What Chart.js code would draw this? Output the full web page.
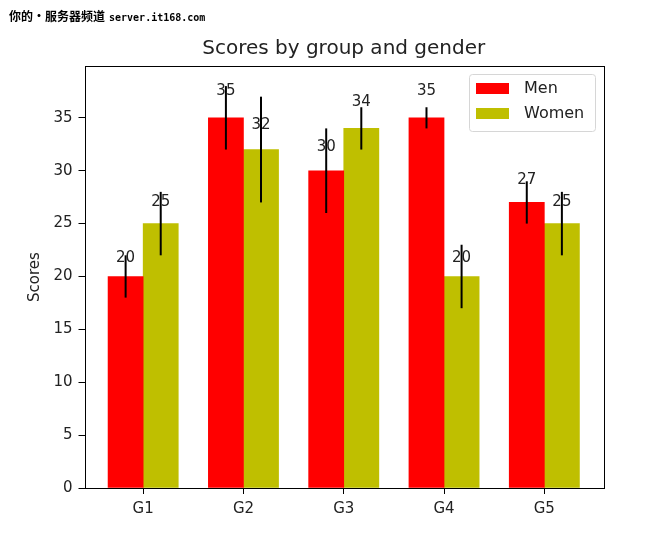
<!DOCTYPE html>
<html>
<head>
<meta charset="utf-8">
<script src="https://cdn.jsdelivr.net/npm/chart.js@4.4.1/dist/chart.umd.min.js"></script>
<style>
  html, body { margin: 0; padding: 0; background: #fff; }
  #wrap { position: relative; width: 670px; height: 548px; }
  #marca { position: absolute; left: 9px; top: 7px; font: bold 12px "Noto Sans CJK SC", sans-serif; color: #000; white-space: nowrap; }
  #marca span { font-family: "DejaVu Sans Mono", monospace; font-size: 10px; margin-left: 4px; }
</style>
</head>
<body>
<div id="wrap">
  <canvas id="grafico" width="670" height="548"></canvas>
  <div id="marca">你的·服务器频道<span>server.it168.com</span></div>
</div>
<script>
const grupos = ['G1', 'G2', 'G3', 'G4', 'G5'];
const hombres = [20, 35, 30, 35, 27];
const hombresStd = [2, 3, 4, 1, 2];
const mujeres = [25, 32, 34, 20, 25];
const mujeresStd = [3, 5, 2, 3, 3];

const ancho = 0.35;
const fuente = 'DejaVu Sans';
const tamTexto = 15;

// barras de error y etiquetas encima de cada barra
const pluginExtras = {
  id: 'extras',
  afterDatasetsDraw(chart) {
    const ctx = chart.ctx;
    const y = chart.scales.y;
    const area = chart.chartArea;
    const errores = [hombresStd, mujeresStd];
    ctx.save();
    chart.data.datasets.forEach((ds, d) => {
      const meta = chart.getDatasetMeta(d);
      meta.data.forEach((barra, i) => {
        const v = ds.data[i].y;
        const e = errores[d][i];
        ctx.strokeStyle = '#000';
        ctx.lineWidth = 2;
        ctx.beginPath();
        ctx.moveTo(barra.x, y.getPixelForValue(v - e));
        ctx.lineTo(barra.x, y.getPixelForValue(v + e));
        ctx.stroke();
        ctx.fillStyle = '#222';
        ctx.font = tamTexto + 'px "' + fuente + '"';
        ctx.textAlign = 'center';
        ctx.textBaseline = 'alphabetic';
        ctx.fillText(String(v), barra.x, y.getPixelForValue(v * 1.05) - 4);
      });
    });
    // marco de los ejes
    ctx.strokeStyle = '#000';
    ctx.lineWidth = 1;
    ctx.strokeRect(Math.round(area.left) + 0.5, Math.round(area.top) + 0.5,
      Math.round(area.right - area.left), Math.round(area.bottom - area.top));

    // leyenda
    const lx = 469, ly = 74, lw = 126, lh = 57;
    ctx.fillStyle = 'rgba(255,255,255,0.8)';
    ctx.strokeStyle = '#d6d6d6';
    ctx.beginPath();
    ctx.roundRect(lx + 0.5, ly + 0.5, lw, lh, 3);
    ctx.fill();
    ctx.stroke();
    chart.data.datasets.forEach((ds, d) => {
      const fy = ly + 9 + d * 25;
      ctx.fillStyle = ds.backgroundColor;
      ctx.fillRect(lx + 7, fy, 33, 11);
      ctx.fillStyle = '#222';
      ctx.font = '16px "' + fuente + '"';
      ctx.textAlign = 'left';
      ctx.textBaseline = 'middle';
      ctx.fillText(ds.label, lx + 55, fy + 6);
    });
    ctx.restore();
  }
};

const ctx = document.getElementById('grafico').getContext('2d');
new Chart(ctx, {
  type: 'bar',
  data: {
    datasets: [
      {
        label: 'Men',
        data: hombres.map((v, i) => ({ x: i - ancho / 2, y: v })),
        backgroundColor: '#ff0000'
      },
      {
        label: 'Women',
        data: mujeres.map((v, i) => ({ x: i + ancho / 2, y: v })),
        backgroundColor: '#bfbf00'
      }
    ]
  },
  options: {
    responsive: false,
    animation: false,
    grouped: false,
    categoryPercentage: 1,
    barPercentage: 1,
    layout: { padding: { left: 26, right: 67, top: 0, bottom: 0 } },
    plugins: {
      legend: { display: false },
      tooltip: { enabled: false },
      title: {
        display: true,
        fullSize: false,
        text: 'Scores by group and gender',
        color: '#222',
        font: { family: fuente, size: 20, weight: 'normal' },
        padding: { top: 37, bottom: 5 }
      }
    },
    scales: {
      x: {
        type: 'linear',
        offset: false,
        min: -0.585,
        max: 4.585,
        afterBuildTicks: (eje) => { eje.ticks = grupos.map((g, i) => ({ value: i })); },
        afterFit: (eje) => { eje.height = 60; },
        ticks: {
          color: '#222',
          font: { family: fuente, size: tamTexto },
          padding: 6,
          callback: (v) => grupos[v]
        },
        grid: { display: true, offset: false, drawOnChartArea: false, color: '#000', tickLength: 6 },
        border: { display: false }
      },
      y: {
        min: 0,
        max: 39.9,
        afterBuildTicks: (eje) => { eje.ticks = [0, 5, 10, 15, 20, 25, 30, 35].map(v => ({ value: v })); },
        afterFit: (eje) => { eje.width = 58.5; },
        ticks: {
          color: '#222',
          font: { family: fuente, size: tamTexto },
          padding: 6
        },
        grid: { display: true, drawOnChartArea: false, color: '#000', tickLength: 6 },
        border: { display: false },
        title: {
          display: true,
          text: 'Scores',
          color: '#222',
          font: { family: fuente, size: tamTexto },
          padding: { top: 0, bottom: 0 }
        }
      }
    }
  },
  plugins: [pluginExtras]
});
</script>
</body>
</html>
